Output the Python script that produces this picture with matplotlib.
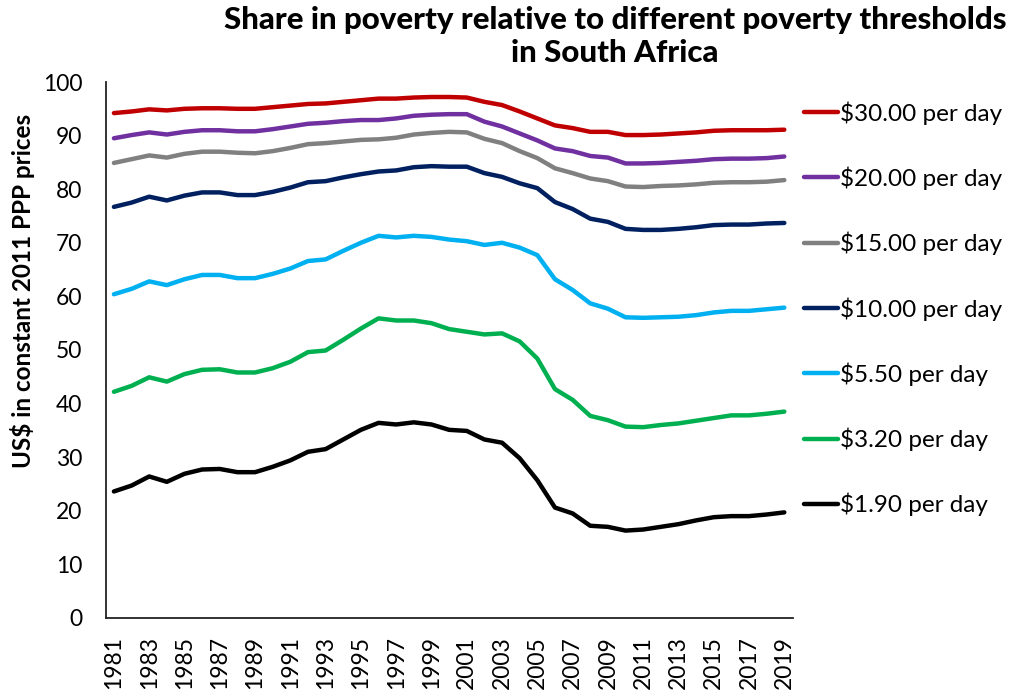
import numpy as np
import matplotlib
matplotlib.use("Agg")
import matplotlib.pyplot as plt

plt.rcParams['font.family'] = ['Lato', 'DejaVu Sans']

years = np.arange(1981, 2020)

pov_190 = [23.6, 24.7, 26.4, 25.4, 26.9, 27.7, 27.8, 27.2, 27.2, 28.2,
           29.4, 31.0, 31.5, 33.3, 35.1, 36.4, 36.1, 36.5, 36.1, 35.1,
           34.9, 33.3, 32.7, 29.8, 25.7, 20.6, 19.5, 17.2, 17.0, 16.3,
           16.5, 17.0, 17.5, 18.2, 18.8, 19.0, 19.0, 19.3, 19.7]
pov_320 = [42.2, 43.3, 44.9, 44.1, 45.5, 46.3, 46.4, 45.8, 45.8, 46.6,
           47.8, 49.6, 49.9, 51.9, 54.0, 55.9, 55.5, 55.5, 55.0, 53.9,
           53.4, 52.9, 53.1, 51.6, 48.4, 42.7, 40.7, 37.7, 36.9, 35.7,
           35.6, 36.0, 36.3, 36.8, 37.3, 37.8, 37.8, 38.1, 38.5]
pov_550 = [60.4, 61.4, 62.8, 62.1, 63.2, 64.0, 64.0, 63.4, 63.4, 64.2,
           65.2, 66.6, 66.9, 68.5, 70.0, 71.3, 71.0, 71.3, 71.1, 70.6,
           70.3, 69.6, 70.0, 69.1, 67.7, 63.2, 61.2, 58.7, 57.7, 56.1,
           56.0, 56.1, 56.2, 56.5, 57.0, 57.3, 57.3, 57.6, 57.9]
pov_1000 = [76.7, 77.5, 78.6, 77.9, 78.8, 79.4, 79.4, 78.9, 78.9, 79.5,
            80.3, 81.3, 81.5, 82.2, 82.8, 83.3, 83.5, 84.1, 84.3, 84.2,
            84.2, 83.0, 82.3, 81.1, 80.2, 77.6, 76.3, 74.5, 73.9, 72.6,
            72.4, 72.4, 72.6, 72.9, 73.3, 73.4, 73.4, 73.6, 73.7]
pov_1500 = [84.9, 85.6, 86.3, 85.9, 86.6, 87.0, 87.0, 86.8, 86.7, 87.1,
            87.7, 88.4, 88.6, 88.9, 89.2, 89.3, 89.6, 90.2, 90.5, 90.7,
            90.6, 89.4, 88.6, 87.1, 85.8, 83.9, 83.0, 82.0, 81.5, 80.5,
            80.4, 80.6, 80.7, 80.9, 81.2, 81.3, 81.3, 81.4, 81.7]
pov_2000 = [89.5, 90.1, 90.6, 90.2, 90.7, 91.0, 91.0, 90.8, 90.8, 91.2,
            91.7, 92.2, 92.4, 92.7, 92.9, 92.9, 93.2, 93.7, 93.9, 94.0,
            94.0, 92.6, 91.7, 90.4, 89.1, 87.6, 87.1, 86.2, 85.9, 84.8,
            84.8, 84.9, 85.1, 85.3, 85.6, 85.7, 85.7, 85.8, 86.1]
pov_3000 = [94.2, 94.5, 94.9, 94.7, 95.0, 95.1, 95.1, 95.0, 95.0, 95.3,
            95.6, 95.9, 96.0, 96.3, 96.6, 96.9, 96.9, 97.1, 97.2, 97.2,
            97.1, 96.3, 95.7, 94.5, 93.2, 91.9, 91.4, 90.7, 90.7, 90.1,
            90.1, 90.2, 90.4, 90.6, 90.9, 91.0, 91.0, 91.0, 91.1]

labels = ['$30.00 per day', '$20.00 per day', '$15.00 per day', '$10.00 per day',
          '$5.50 per day', '$3.20 per day', '$1.90 per day']
series = [pov_3000, pov_2000, pov_1500, pov_1000, pov_550, pov_320, pov_190]
colors = ['#C00000', '#7030A0', '#808080', '#002060', '#00B0F0', '#00B050', '#000000']

fig = plt.figure(figsize=(10.18, 6.92), dpi=100)
ax = fig.add_axes([0.1041, 0.107, 0.675, 0.7745])

for vals, lab, col in zip(series, labels, colors):
    ax.plot(years, vals, color=col, lw=3.2, label=lab, solid_capstyle='round')

ax.set_xlim(years[0] - 0.45, years[-1] + 0.5)
ax.set_ylim(0, 100)
ax.set_yticks(np.arange(0, 101, 10))
ax.set_xticks(years[::2])
ax.set_xticklabels([str(y) for y in years[::2]], rotation=90)
ax.tick_params(axis='both', length=0, labelsize=16.5, colors='black')
ax.tick_params(axis='y', pad=17)
ax.tick_params(axis='x', pad=13)

for side in ['top', 'right']:
    ax.spines[side].set_visible(False)
for side in ['left', 'bottom']:
    ax.spines[side].set_linewidth(1.3)
    ax.spines[side].set_color('#222222')

ax.set_ylabel('US$ in constant 2011 PPP prices', fontsize=17.5, fontweight='bold')
ax.yaxis.set_label_coords(-0.104, 0.61)

ax.legend(loc='upper left', bbox_to_anchor=(0.991, 0.996), frameon=False, fontsize=17.5,
          handlelength=1.4, handletextpad=0.08, labelspacing=1.72, borderaxespad=0.3)

fig.text(0.604, 0.992, 'Share in poverty relative to different poverty thresholds\nin South Africa',
         ha='center', va='top', fontsize=22.5, fontweight='black', linespacing=1.25)

fig.savefig('out.png', dpi=100)
